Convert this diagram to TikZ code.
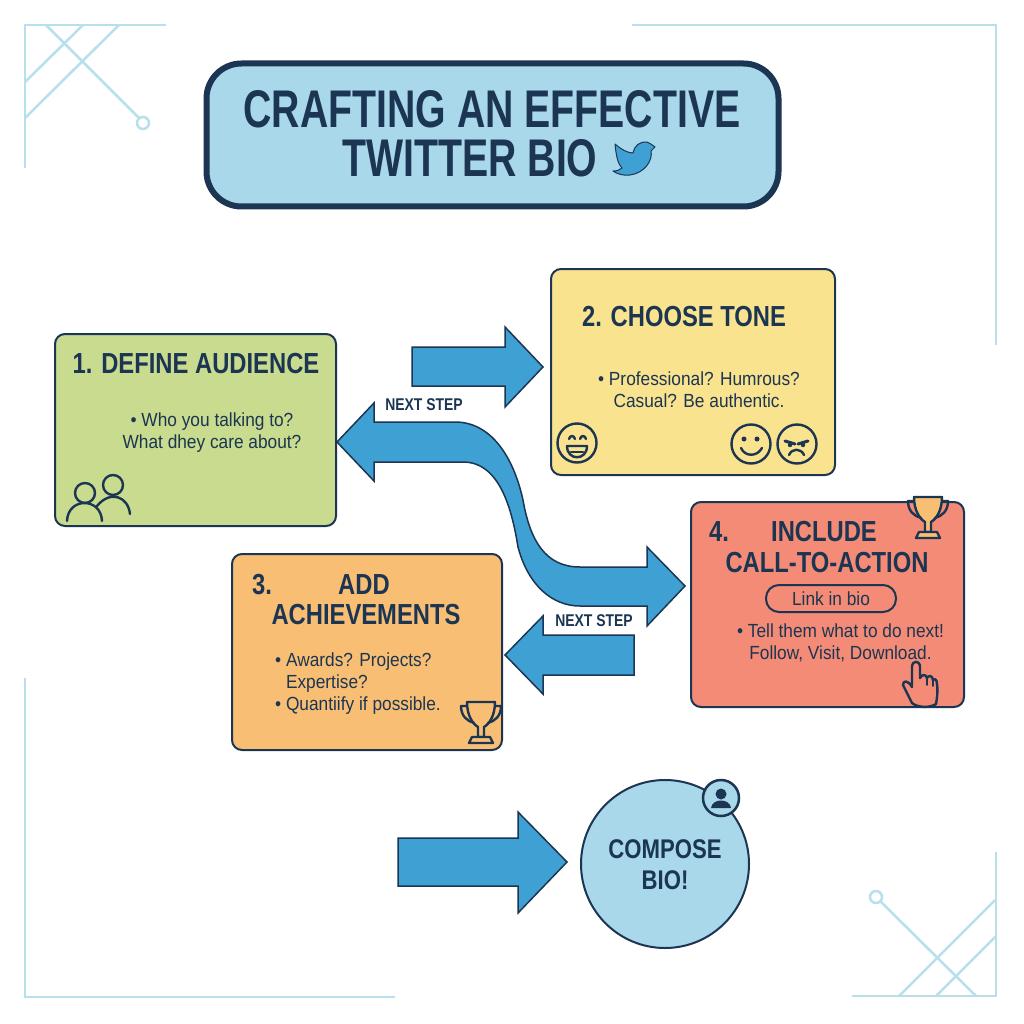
\documentclass[tikz,border=0pt]{standalone}
\usepackage{fontspec}
\setmainfont{Liberation Sans}
\newfontfamily\titlefont[FakeStretch=0.74]{Liberation Sans}
\newfontfamily\headfont[FakeStretch=0.82]{Liberation Sans}
\newfontfamily\bodyfont[FakeStretch=0.91]{Liberation Sans}
\usetikzlibrary{arrows.meta}
\definecolor{navy}{HTML}{1B3552}
\definecolor{paleblue}{HTML}{A8D8EA}
\definecolor{flowblue}{HTML}{3FA1D3}
\definecolor{decoblue}{HTML}{B8E0EC}
\definecolor{cardgreen}{HTML}{C8DB8F}
\definecolor{cardyellow}{HTML}{F9E38F}
\definecolor{cardorange}{HTML}{F8BF74}
\definecolor{cardred}{HTML}{F38B76}
\tikzset{
  cardbox/.style={draw=navy,line width=2pt,rounded corners=10pt},
  flowarrow/.style={draw=navy,fill=flowblue,line width=1.5pt,line join=miter},
  decoline/.style={draw=decoblue,line width=2.5pt},
  iconline/.style={draw=navy,line width=2.4pt,line cap=round,line join=round},
  titletext/.style={text=navy,font=\titlefont\bfseries\fontsize{53}{55}\selectfont,inner sep=0pt},
  headtext/.style={text=navy,font=\headfont\bfseries\fontsize{29}{31}\selectfont,inner sep=0pt},
  bodytext/.style={text=navy,font=\bodyfont\fontsize{19}{22}\selectfont,inner sep=0pt,align=center},
  steptext/.style={text=navy,font=\headfont\bfseries\fontsize{17}{18}\selectfont,inner sep=0pt},
}
\newcommand{\trophyicon}[3]{%
  \begin{scope}[shift={(#1,#2)}]
    \draw[iconline,fill=#3] (-14,0) -- (14,0) .. controls (14,14) and (8,22) .. (3,25) -- (3,35) -- (-3,35) -- (-3,25) .. controls (-8,22) and (-14,14) .. (-14,0) -- cycle;
    \draw[iconline] (-14,4) -- (-20,4) .. controls (-20,14) and (-14,19) .. (-7,21);
    \draw[iconline] (14,4) -- (20,4) .. controls (20,14) and (14,19) .. (7,21);
    \draw[iconline,fill=#3] (-12,41) -- (12,41) -- (9,35) -- (-9,35) -- cycle;
  \end{scope}}
\begin{document}
\begin{tikzpicture}[x=1pt,y=-1pt]
\useasboundingbox[fill=white] (0,0) rectangle (1024,1024);
%%
\draw[decoline] (166,25) -- (25,25) -- (25,168);
\draw[decoline] (46,25) -- (139,118);
\draw[decoline] (83,25) -- (25,82);
\draw[decoline] (119,25) -- (25,118);
\draw[decoline] (143,123) circle[radius=6pt];
\draw[decoline] (632,25) -- (996,25) -- (996,345);
\draw[decoline] (25,678) -- (25,997) -- (395,997);
\draw[decoline] (996,852) -- (996,996) -- (852,996);
\draw[decoline] (880,901) -- (976,996);
\draw[decoline] (995,900) -- (899,996);
\draw[decoline] (995,937) -- (936,996);
\draw[decoline] (876,897) circle[radius=6pt];
%%
\node (node_title) at (492.5,135) [draw=navy,fill=paleblue,line width=6pt,rounded corners=35pt,minimum width=572,minimum height=143] {};
\node (text_title_a) at (492,109) [titletext] {CRAFTING AN EFFECTIVE};
\node (text_title_b) at (470,158) [titletext] {TWITTER BIO};
\draw[draw=navy,fill=flowblue,line width=1pt,line join=round] (615,144) .. controls (622,150) and (628,153) .. (633,153) .. controls (634,146) and (640,141) .. (647,142) .. controls (650,143) and (652,145) .. (655,147) -- (651,151) .. controls (653,160) and (645,173) .. (630,175) .. controls (624,176) and (617,174) .. (613,171) .. controls (617,171) and (620,170) .. (622,168) .. controls (617,163) and (616,153) .. (615,144) -- cycle;
%%
\node (node_audience) at (195.5,430) [cardbox,fill=cardgreen,minimum width=281,minimum height=192] {};
\node (node_tone) at (693,372) [cardbox,fill=cardyellow,minimum width=284,minimum height=206] {};
\node (node_achieve) at (367,652) [cardbox,fill=cardorange,minimum width=270,minimum height=196] {};
\node (node_action) at (827.5,604.5) [cardbox,fill=cardred,minimum width=273,minimum height=205] {};
\node (node_compose) at (665,864) [circle,draw=navy,fill=paleblue,line width=2pt,minimum size=168,inner sep=0pt] {};
%%
\node (text_audience) at (196,364) [headtext] {1. DEFINE AUDIENCE};
\node (body_audience) at (212,433) [bodytext] {\textbullet\ Who you talking to?\\What dhey care about?};
\node (text_tone) at (684,317) [headtext] {2. CHOOSE TONE};
\node (body_tone) at (699,390) [bodytext] {\textbullet\ Professional? Humrous?\\Casual? Be authentic.};
\node (text_achieve_n) at (262,585) [headtext] {3.};
\node (text_achieve_a) at (364,585) [headtext] {ADD};
\node (text_achieve_b) at (366,615) [headtext] {ACHIEVEMENTS};
\node (body_achieve) at (275,684) [bodytext,anchor=west,align=left] {\textbullet\ Awards? Projects?\\\phantom{\textbullet\ }Expertise?\\\textbullet\ Quantiify if possible.};
\node (text_action_n) at (719,532) [headtext] {4.};
\node (text_action_a) at (824,532) [headtext] {INCLUDE};
\node (text_action_b) at (827,563) [headtext] {CALL-TO-ACTION};
\node (node_link) at (831,598.5) [draw=navy,line width=2pt,rounded corners=13pt,minimum width=130,minimum height=27,text=navy,font=\bodyfont\fontsize{19}{22}\selectfont,inner sep=0pt] {Link in bio};
\node (body_action) at (840.5,643) [bodytext] {\textbullet\ Tell them what to do next!\\Follow, Visit, Download.};
\node (text_compose) at (665,865) [text=navy,font=\headfont\bfseries\fontsize{27}{31}\selectfont,inner sep=0pt,align=center] {COMPOSE\\BIO!};
%%
\coordinate (tip_tone) at (543,367);
\coordinate (tip_audience) at (337,442);
\coordinate (tip_action) at (685,586);
\coordinate (tip_achieve) at (505,655);
\coordinate (tip_compose) at (567,862);
\draw[flowarrow] (tip_tone) -- ++(-38,-40) -- ++(0,20) -- ++(-93,0) -- ++(0,39) -- ++(93,0) -- ++(0,21) -- cycle;
\draw[flowarrow] (tip_audience) -- ++(37,-39) -- ++(0,19) -- (455,422) .. controls (490,422) and (513,455) .. (523,500) .. controls (530,540) and (545,567) .. (580,567) -- (647,567) -- ++(0,-20) -- (tip_action) -- ++(-38,40) -- ++(0,-20) -- (580,606) .. controls (552,606) and (528,585) .. (518,547) .. controls (512,510) and (500,462) .. (463,462) -- (374,462) -- ++(0,19) -- cycle;
\draw[flowarrow] (tip_achieve) -- ++(38,-39) -- ++(0,19) -- ++(91,0) -- ++(0,40) -- ++(-91,0) -- ++(0,19) -- cycle;
\draw[flowarrow] (tip_compose) -- ++(-49,-50) -- ++(0,26) -- ++(-120,0) -- ++(0,48) -- ++(120,0) -- ++(0,27) -- cycle;
\node (text_step_a) at (424,405) [steptext] {NEXT STEP};
\node (text_step_b) at (594,621) [steptext] {NEXT STEP};
%%
\draw[iconline] (85,493) circle[radius=10pt];
\draw[iconline] (67,521) .. controls (68,497) and (101,497) .. (102,521);
\draw[iconline] (113,485) circle[radius=10pt];
\draw[iconline] (97,506) .. controls (110,490) and (128,496) .. (130,514);
%%
\draw[iconline] (577,443) circle[radius=19.5pt];
\draw[iconline] (569,439) .. controls (570,435) and (574,435) .. (575,439);
\draw[iconline] (580,439) .. controls (581,435) and (585,435) .. (586,439);
\draw[iconline] (567,446) -- (587,446) .. controls (587,461) and (567,461) .. (567,446) -- cycle;
\draw[iconline] (571,452) -- (583,452);
\fill[navy] (744,439) circle[radius=2.5pt];
\fill[navy] (757,439) circle[radius=2.5pt];
\draw[iconline] (751,444) circle[radius=19.5pt];
\draw[iconline] (741,448) .. controls (745,457) and (757,457) .. (762,448);
\draw[iconline] (797,444) circle[radius=19.5pt];
\draw[iconline,line width=3pt] (785,441) -- (795,444);
\draw[iconline,line width=3pt] (808,441) -- (798,444);
\fill[navy] (790,445) circle[radius=2.2pt];
\fill[navy] (803,445) circle[radius=2.2pt];
\draw[iconline] (789,455) .. controls (792,448) and (801,448) .. (804,455);
%%
\trophyicon{481}{702}{cardorange}
\trophyicon{928}{497}{cardorange}
%%
\draw[iconline] (912,703) -- (903,685) .. controls (903,680) and (908,680) .. (912,687) -- (912,667) .. controls (912,660) and (920,660) .. (920,667) -- (920,678) .. controls (922,674) and (926,674) .. (927,678) .. controls (929,675) and (932,675) .. (933,680) .. controls (935,678) and (937,680) .. (937,684) .. controls (938,692) and (937,698) .. (936,704) .. controls (930,708) and (918,708) .. (912,703) -- cycle;
\draw[iconline,line width=1.6pt] (927,678) -- (927,685);
\draw[iconline,line width=1.6pt] (933,680) -- (933,686);
%%
\draw[draw=navy,fill=paleblue,line width=2.5pt] (721,798) circle[radius=18pt];
\fill[navy] (721,794) circle[radius=5.5pt];
\fill[navy] (711,808) .. controls (712,798) and (730,798) .. (731,808) -- cycle;
%
\end{tikzpicture}
\end{document}
